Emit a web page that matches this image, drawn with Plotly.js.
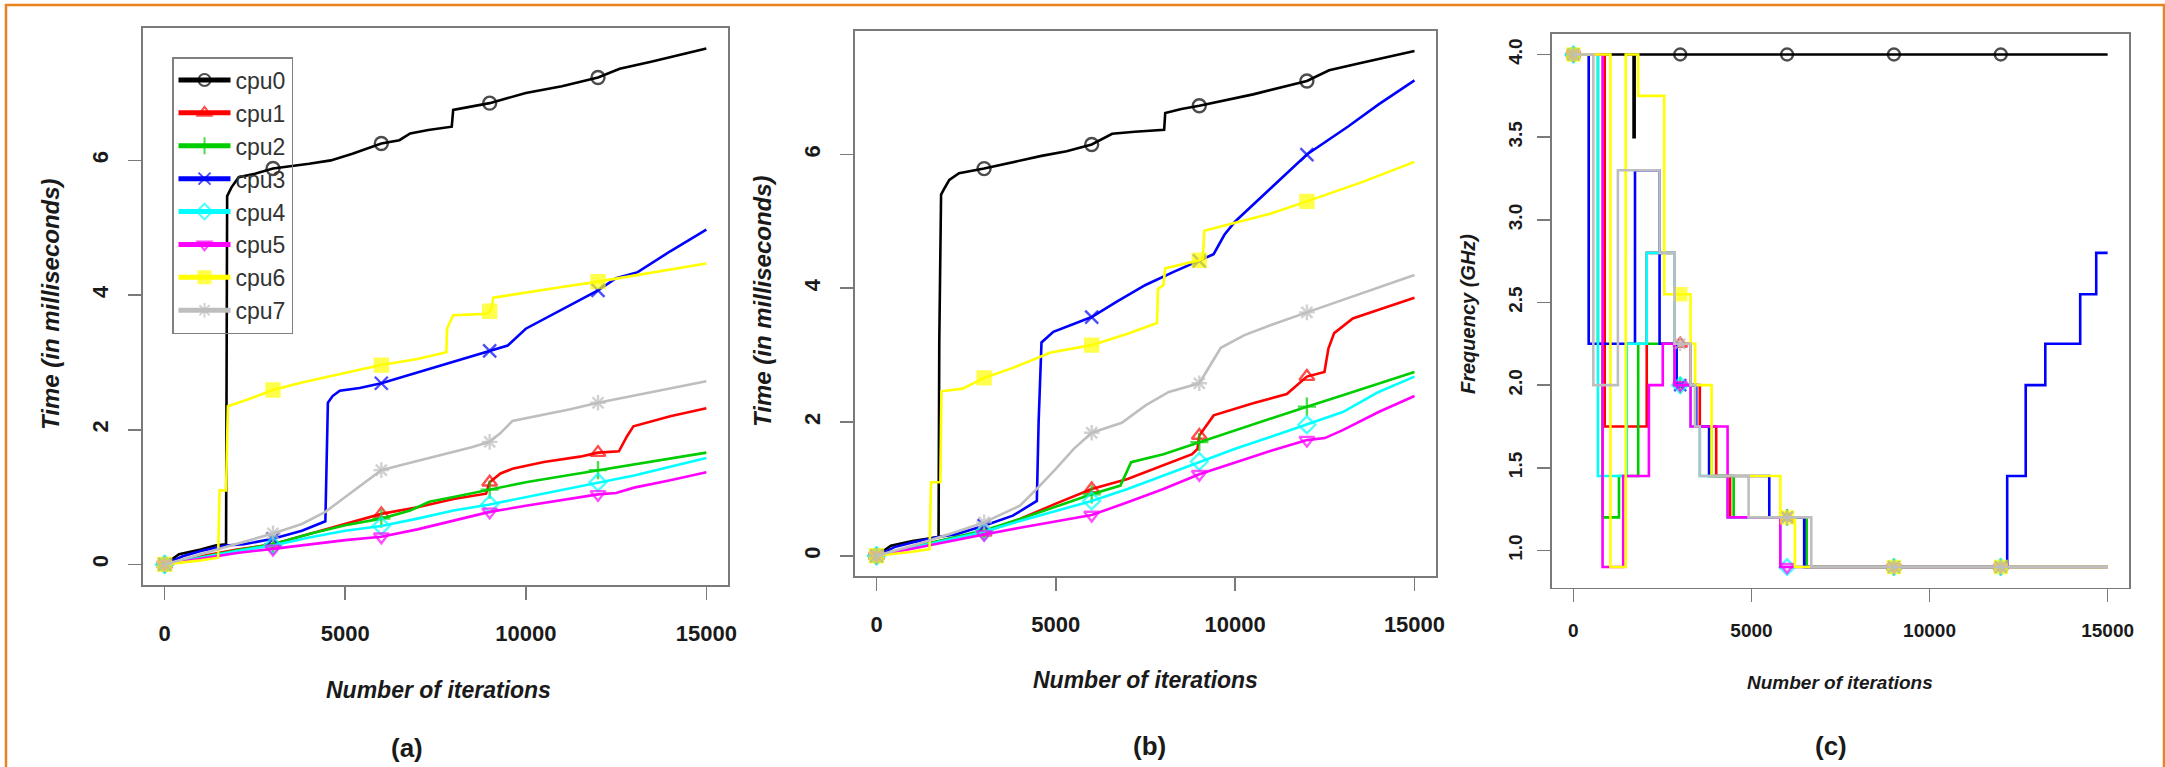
<!DOCTYPE html>
<html>
<head>
<meta charset="utf-8">
<script src="https://cdn.plot.ly/plotly-3.0.1.min.js"></script>
<style>
  html, body { margin: 0; padding: 0; background: #ffffff; }
  #chart { width: 2165px; height: 767px; }
</style>
</head>
<body>
<div id="chart"></div>
<script>
// ---------------- data ----------------
const cpuNames = ['cpu0', 'cpu1', 'cpu2', 'cpu3', 'cpu4', 'cpu5', 'cpu6', 'cpu7'];
const markerIters = [0, 3000, 6000, 9000, 12000];
const xTicks = [0, 5000, 10000, 15000];
const timeTicks = [0, 2, 4, 6];
const freqTicks = [1.0, 1.5, 2.0, 2.5, 3.0, 3.5, 4.0];
const captions = ['(a)', '(b)', '(c)'];

// Panel (a): time (ms) vs iterations
const a0x = [0, 400, 1000, 1400, 1700, 1710, 1730, 1850, 2050, 2500, 3000, 4000, 4600, 5200, 6000, 6500, 6800, 7300, 7950, 7990, 8500, 9000, 10000, 11000, 12000, 12600, 13500, 15000];
const a0y = [0, 0.15, 0.22, 0.28, 0.3, 3.3, 5.47, 5.6, 5.75, 5.8, 5.88, 5.95, 6.0, 6.1, 6.25, 6.3, 6.4, 6.45, 6.5, 6.75, 6.8, 6.85, 7.0, 7.1, 7.23, 7.36, 7.47, 7.66];
const a1x = [0, 1000, 2000, 3000, 4000, 5000, 6000, 7000, 8000, 8900, 9000, 9300, 9630, 10500, 11500, 12000, 12580, 12800, 12980, 14000, 15000];
const a1y = [0, 0.12, 0.22, 0.3, 0.45, 0.6, 0.75, 0.85, 0.97, 1.05, 1.22, 1.35, 1.42, 1.52, 1.6, 1.66, 1.68, 1.9, 2.05, 2.2, 2.32];
const a2x = [0, 1000, 2000, 3000, 4000, 5000, 6000, 6800, 7330, 8000, 9000, 10000, 11000, 12000, 13000, 14000, 15000];
const a2y = [0, 0.11, 0.21, 0.3, 0.45, 0.58, 0.68, 0.8, 0.93, 1.0, 1.11, 1.22, 1.31, 1.40, 1.49, 1.57, 1.66];
const a3x = [0, 500, 1000, 1700, 2200, 3000, 3800, 4450, 4520, 4650, 4850, 5400, 6000, 7000, 8000, 9000, 9500, 10000, 11000, 12000, 12500, 13100, 14000, 15000];
const a3y = [0, 0.12, 0.2, 0.28, 0.3, 0.38, 0.5, 0.64, 2.4, 2.5, 2.58, 2.62, 2.69, 2.85, 3.0, 3.17, 3.25, 3.5, 3.78, 4.07, 4.25, 4.34, 4.65, 4.97];
const a4x = [0, 1000, 2000, 3000, 4000, 5000, 6000, 7000, 8000, 9000, 10000, 11000, 12000, 13000, 14000, 15000];
const a4y = [0, 0.1, 0.2, 0.28, 0.4, 0.5, 0.57, 0.68, 0.8, 0.89, 1.0, 1.1, 1.22, 1.32, 1.45, 1.58];
const a5x = [0, 1000, 2000, 3000, 4000, 5000, 6000, 7000, 8000, 9000, 10000, 11000, 12000, 12500, 13000, 14000, 15000];
const a5y = [0, 0.09, 0.17, 0.23, 0.3, 0.36, 0.41, 0.52, 0.65, 0.78, 0.87, 0.95, 1.04, 1.06, 1.14, 1.25, 1.37];
const a6x = [0, 500, 1000, 1480, 1500, 1520, 1700, 1730, 1750, 2300, 3000, 3800, 4600, 5300, 6000, 7000, 7800, 7820, 7990, 8900, 9000, 9050, 9100, 10100, 11000, 12000, 13500, 15000];
const a6y = [0, 0.03, 0.06, 0.1, 0.6, 1.1, 1.1, 2.3, 2.35, 2.45, 2.59, 2.7, 2.8, 2.88, 2.96, 3.05, 3.15, 3.5, 3.7, 3.72, 3.76, 3.8, 3.96, 4.05, 4.12, 4.2, 4.33, 4.47];
const a7x = [0, 1000, 2000, 3000, 3800, 4450, 5000, 5500, 6000, 6500, 7500, 8500, 9000, 9300, 9630, 10500, 11200, 12000, 13000, 14000, 15000];
const a7y = [0, 0.15, 0.3, 0.46, 0.6, 0.78, 1.0, 1.2, 1.40, 1.47, 1.6, 1.74, 1.82, 1.95, 2.13, 2.22, 2.3, 2.40, 2.51, 2.62, 2.72];

// Panel (b): time (ms) vs iterations
const b0x = [0, 400, 1000, 1730, 1750, 1800, 1900, 2030, 2300, 3000, 4600, 5300, 6000, 6570, 7200, 8020, 8050, 8500, 9000, 10500, 12000, 12620, 13500, 15000];
const b0y = [0, 0.15, 0.22, 0.28, 3.2, 5.4, 5.5, 5.62, 5.72, 5.79, 5.98, 6.05, 6.15, 6.31, 6.34, 6.37, 6.62, 6.68, 6.73, 6.9, 7.1, 7.26, 7.37, 7.55];
const b1x = [0, 1000, 2000, 3000, 4000, 5000, 6000, 7000, 8000, 8800, 8950, 9000, 9400, 10500, 11440, 12000, 12490, 12600, 12760, 13280, 14000, 15000];
const b1y = [0, 0.13, 0.25, 0.35, 0.55, 0.78, 1.0, 1.15, 1.35, 1.52, 1.6, 1.8, 2.1, 2.28, 2.42, 2.68, 2.75, 3.1, 3.33, 3.55, 3.68, 3.86];
const b2x = [0, 1000, 2000, 3000, 4000, 5000, 6000, 6800, 7100, 8000, 9000, 10000, 11000, 12000, 13000, 14000, 15000];
const b2y = [0, 0.13, 0.25, 0.38, 0.55, 0.74, 0.92, 1.05, 1.4, 1.52, 1.7, 1.88, 2.05, 2.23, 2.4, 2.57, 2.75];
const b3x = [0, 500, 1000, 1700, 2200, 3000, 3800, 4470, 4520, 4600, 4930, 5400, 6000, 6700, 7500, 8300, 9000, 9400, 9700, 10000, 11000, 12000, 13150, 14000, 15000];
const b3y = [0, 0.13, 0.2, 0.28, 0.32, 0.45, 0.6, 0.82, 2.0, 3.19, 3.35, 3.45, 3.57, 3.8, 4.05, 4.25, 4.41, 4.51, 4.8, 5.0, 5.5, 6.0, 6.42, 6.75, 7.11];
const b4x = [0, 1000, 2000, 3000, 4000, 5000, 6000, 7000, 8000, 9000, 10000, 11000, 12000, 13000, 14000, 15000];
const b4y = [0, 0.12, 0.24, 0.36, 0.52, 0.67, 0.82, 1.0, 1.2, 1.41, 1.6, 1.78, 1.96, 2.15, 2.45, 2.68];
const b5x = [0, 1000, 2000, 3000, 4000, 5000, 6000, 7000, 8000, 9000, 10000, 11000, 12000, 12500, 13000, 14000, 15000];
const b5y = [0, 0.11, 0.22, 0.32, 0.42, 0.52, 0.61, 0.8, 1.0, 1.22, 1.4, 1.57, 1.73, 1.76, 1.88, 2.15, 2.39];
const b6x = [0, 500, 1000, 1480, 1500, 1520, 1780, 1810, 2400, 3000, 3800, 4860, 6000, 7000, 7820, 7850, 8000, 8050, 9000, 9100, 9140, 10000, 11000, 12000, 13500, 15000];
const b6y = [0, 0.03, 0.06, 0.1, 0.6, 1.1, 1.1, 2.46, 2.5, 2.66, 2.81, 3.04, 3.15, 3.32, 3.48, 3.99, 4.05, 4.3, 4.42, 4.45, 4.86, 4.98, 5.12, 5.30, 5.58, 5.89];
const b7x = [0, 1000, 2000, 3000, 4000, 4470, 5000, 5500, 6000, 6840, 7500, 8150, 9000, 9300, 9600, 10260, 11000, 12000, 13000, 14000, 15000];
const b7y = [0, 0.15, 0.32, 0.50, 0.75, 1.0, 1.3, 1.6, 1.84, 1.99, 2.25, 2.45, 2.58, 2.85, 3.11, 3.3, 3.45, 3.64, 3.83, 4.02, 4.2];

// Panel (c): frequency (GHz) vs iterations, step changes
const c0x = [0, 1690, 1720, 3000, 6000, 9000, 12000, 15000];
const c0y = [4.0, 3.5, 4.0, 4.0, 4.0, 4.0, 4.0, 4.0];
const c1x = [0, 880, 2060, 2840, 3000, 3290, 3550, 4010, 4400, 6000, 6500, 9000, 12000, 15000];
const c1y = [4.0, 1.75, 2.8, 2.25, 2.25, 2.0, 1.75, 1.45, 1.2, 1.2, 0.9, 0.9, 0.9, 0.9];
const c2x = [0, 690, 820, 1280, 1820, 2840, 3000, 3420, 3880, 4500, 6000, 6550, 9000, 12000, 15000];
const c2y = [4.0, 2.25, 1.2, 1.45, 2.25, 2.0, 2.0, 1.75, 1.45, 1.2, 1.2, 0.9, 0.9, 0.9, 0.9];
const c3x = [0, 430, 1730, 2420, 2900, 3000, 3450, 3810, 5500, 6000, 6480, 9000, 12000, 12180, 12700, 13250, 14230, 14680, 15000];
const c3y = [4.0, 2.25, 3.3, 2.25, 2.0, 2.0, 1.75, 1.45, 1.2, 1.2, 0.9, 0.9, 0.9, 1.45, 2.0, 2.25, 2.55, 2.8, 2.8];
const c4x = [0, 690, 1500, 2060, 2840, 3000, 3290, 3550, 4330, 5810, 6000, 9000, 12000, 15000];
const c4y = [4.0, 1.45, 2.25, 2.8, 2.0, 2.0, 1.75, 1.45, 1.2, 0.9, 0.9, 0.9, 0.9, 0.9];
const c5x = [0, 820, 1400, 2120, 2510, 2840, 3000, 3290, 4330, 5810, 6000, 9000, 12000, 15000];
const c5y = [4.0, 0.9, 1.45, 2.0, 2.25, 2.0, 2.0, 1.75, 1.2, 0.9, 0.9, 0.9, 0.9, 0.9];
const c6x = [0, 1040, 1470, 1820, 2550, 3000, 3290, 3420, 3880, 5810, 6000, 6220, 9000, 12000, 15000];
const c6y = [4.0, 0.9, 4.0, 3.75, 2.55, 2.55, 2.25, 2.0, 1.45, 1.2, 1.2, 0.9, 0.9, 0.9, 0.9];
const c7x = [0, 560, 1250, 2420, 2840, 3000, 3290, 3420, 3550, 4920, 6000, 6680, 9000, 12000, 15000];
const c7y = [4.0, 2.0, 3.3, 2.8, 2.25, 2.25, 2.0, 1.75, 1.45, 1.2, 1.2, 0.9, 0.9, 0.9, 0.9];

// ---------------- styling ----------------
const colors = ['#000000', '#FF0000', '#00CD00', '#0000FF', '#00FFFF', '#FF00FF', '#FFFF00', '#BEBEBE'];
const symbols = ['circle-open', 'triangle-up-open', 'cross-thin-open', 'x-thin-open', 'diamond-open', 'triangle-down-open', 'square', 'asterisk-open'];
const FONT = 'Liberation Sans, Arial, Helvetica, sans-serif';

const panelA = [[a0x, a0y], [a1x, a1y], [a2x, a2y], [a3x, a3y], [a4x, a4y], [a5x, a5y], [a6x, a6y], [a7x, a7y]];
const panelB = [[b0x, b0y], [b1x, b1y], [b2x, b2y], [b3x, b3y], [b4x, b4y], [b5x, b5y], [b6x, b6y], [b7x, b7y]];
const panelC = [[c0x, c0y], [c1x, c1y], [c2x, c2y], [c3x, c3y], [c4x, c4y], [c5x, c5y], [c6x, c6y], [c7x, c7y]];

function makeTrace(xs, ys, i, xa, ya, showLeg, shape, msize) {
  return {
    type: 'scatter', mode: 'lines+markers',
    x: xs, y: ys, name: cpuNames[i],
    xaxis: xa, yaxis: ya,
    showlegend: showLeg, legendgroup: cpuNames[i],
    line: { color: colors[i], width: 2.6, shape: shape },
    marker: {
      symbol: symbols[i], color: colors[i],
      size: xs.map(v => markerIters.includes(v) ? msize : 0),
      line: { color: colors[i], width: 2.4 }
    },
    hoverinfo: 'x+y+name'
  };
}

const traces = [];
panelA.forEach((p, i) => traces.push(makeTrace(p[0], p[1], i, 'x', 'y', true, 'linear', 13)));
panelB.forEach((p, i) => traces.push(makeTrace(p[0], p[1], i, 'x2', 'y2', false, 'linear', 13)));
panelC.forEach((p, i) => traces.push(makeTrace(p[0], p[1], i, 'x3', 'y3', false, 'hv', 12)));

const W = 2165, H = 767;
const px = v => v / W;
const py = v => 1 - v / H;

const lineCol = '#7a7a7a';
function xAxis(dom, anchor, fs, so) {
  return {
    domain: dom, anchor: anchor, range: [-600, 15600],
    tickvals: xTicks, ticktext: xTicks.map(String),
    showgrid: false, zeroline: false, showline: true, mirror: true,
    linecolor: lineCol, linewidth: 1.6,
    ticks: 'outside', ticklen: 13, tickwidth: 1.6, tickcolor: lineCol,
    ticklabelstandoff: so,
    tickfont: { family: FONT, size: fs, color: '#1a1a1a', weight: 'bold' },
    fixedrange: true
  };
}
function yAxis(dom, anchor, rng, vals, texts, fs, so) {
  return {
    domain: dom, anchor: anchor, range: rng,
    tickvals: vals, ticktext: texts, tickangle: -90,
    showgrid: false, zeroline: false, showline: true, mirror: true,
    linecolor: lineCol, linewidth: 1.6,
    ticks: 'outside', ticklen: 13, tickwidth: 1.6, tickcolor: lineCol,
    ticklabelstandoff: so,
    tickfont: { family: FONT, size: fs, color: '#1a1a1a', weight: 'bold' },
    fixedrange: true
  };
}

const titleFont = (s) => ({ family: FONT, size: s, color: '#1a1a1a', weight: 'bold', style: 'italic' });
function ann(text, x, y, font, angle) {
  return { text: text, x: px(x), y: py(y), xref: 'paper', yref: 'paper', xanchor: 'center', yanchor: 'middle',
           showarrow: false, textangle: angle || 0, font: font };
}
const capFont = { family: FONT, size: 26, color: '#1a1a1a', weight: 'bold' };

const layout = {
  width: W, height: H,
  margin: { l: 0, r: 0, t: 0, b: 0, pad: 0 },
  paper_bgcolor: '#ffffff', plot_bgcolor: '#ffffff',
  showlegend: true,
  legend: {
    x: px(172), y: py(57), xanchor: 'left', yanchor: 'top',
    bgcolor: 'rgba(255,255,255,0)', bordercolor: '#808080', borderwidth: 1.5,
    font: { family: FONT, size: 23, color: '#333333' },
    itemsizing: 'constant', itemwidth: 52, tracegroupgap: 0
  },
  xaxis: xAxis([px(143), px(728)], 'y', 22, 15),
  yaxis: yAxis([py(585), py(28)], 'x', [-0.306, 7.966], timeTicks, timeTicks.map(String), 22, 12),
  xaxis2: xAxis([px(855), px(1436)], 'y2', 22, 15),
  yaxis2: yAxis([py(576), py(30.7)], 'x2', [-0.302, 7.852], timeTicks, timeTicks.map(String), 22, 12),
  xaxis3: xAxis([px(1552), px(2129)], 'y3', 19, 12),
  yaxis3: yAxis([py(587.5), py(34)], 'x3', [0.776, 4.124], freqTicks, freqTicks.map(v => v.toFixed(1)), 19, 8),
  annotations: [
    ann('Number of iterations', 438, 690, titleFont(23)),
    ann('Number of iterations', 1145, 680, titleFont(23)),
    ann('Number of iterations', 1840, 682, titleFont(19)),
    ann('Time (in milliseconds)', 50, 304, titleFont(24), -90),
    ann('Time (in milliseconds)', 762, 301, titleFont(24), -90),
    ann('Frequency (GHz)', 1468, 314, titleFont(20), -90),
    ann(captions[0], 407, 748, capFont),
    ann(captions[1], 1149, 746, capFont),
    ann(captions[2], 1831, 746, capFont)
  ],
  shapes: [
    { type: 'rect', xref: 'paper', yref: 'paper', x0: px(6), x1: px(2164), y0: -0.2, y1: py(5),
      line: { color: '#E9821F', width: 2.5 }, fillcolor: 'rgba(0,0,0,0)', layer: 'above' }
  ]
};

Plotly.newPlot('chart', traces, layout, { staticPlot: true, displayModeBar: false });
</script>
</body>
</html>
